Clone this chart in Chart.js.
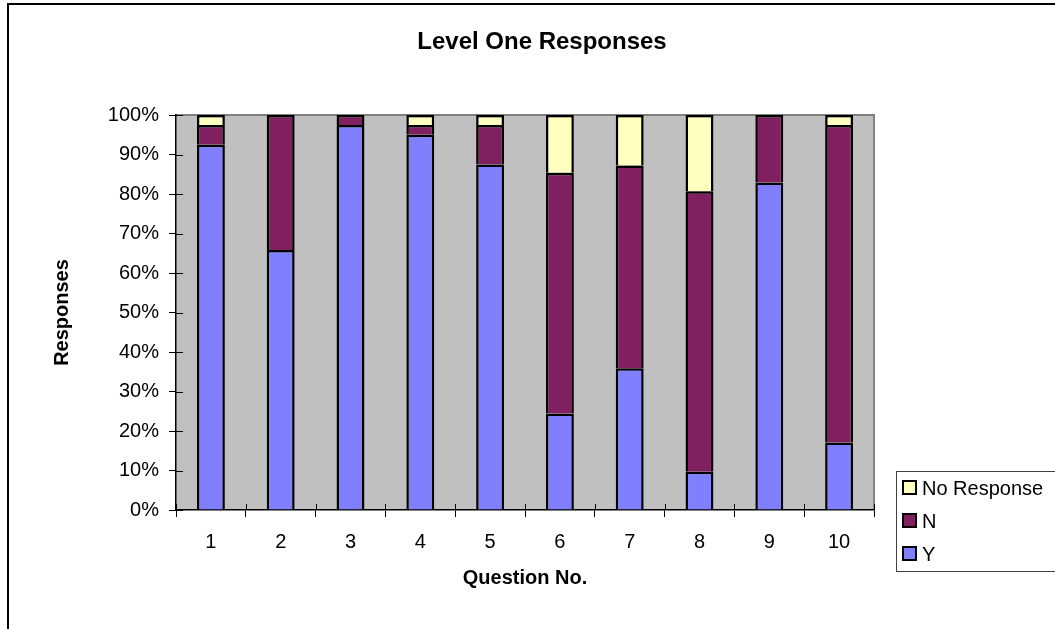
<!DOCTYPE html>
<html>
<head>
<meta charset="utf-8">
<style>
  html, body { margin: 0; padding: 0; background: #fff; }
  #wrap { width: 1055px; height: 629px; }
</style>
<script src="https://cdn.jsdelivr.net/npm/chart.js@4/dist/chart.umd.min.js"></script>
</head>
<body>
<div id="wrap"><canvas id="chart" width="1055" height="629"></canvas></div>
<script>
// Question numbers along the category axis
const questions = ['1', '2', '3', '4', '5', '6', '7', '8', '9', '10'];
// Share of answers per question, in percent
const yesShare        = [92.5, 65.8, 97.5, 95.0, 87.5, 24.4, 35.9,  9.7, 82.9, 17.1];
const noShare         = [ 5.0, 34.2,  2.5,  2.5, 10.0, 61.0, 51.3, 71.0, 17.1, 80.4];
const noResponseShare = [ 2.5,  0.0,  0.0,  2.5,  2.5, 14.6, 12.8, 19.3,  0.0,  2.5];
// Value axis ticks
const percentTicks = [0, 10, 20, 30, 40, 50, 60, 70, 80, 90, 100];
const chartTitle = 'Level One Responses';

const FONT = '"Liberation Sans", Arial, sans-serif';

// Frame, title, grey plot area, crossing tick marks and the boxed legend
const chrome = {
  id: 'chrome',
  beforeDraw(chart) {
    const { ctx, chartArea: a } = chart;
    ctx.save();
    ctx.fillStyle = '#ffffff';
    ctx.fillRect(0, 0, chart.width, chart.height);
    ctx.strokeStyle = '#000000';
    ctx.lineWidth = 2;
    ctx.beginPath();
    ctx.moveTo(8, chart.height);
    ctx.lineTo(8, 4);
    ctx.lineTo(chart.width, 4);
    ctx.stroke();
    ctx.fillStyle = '#C0C0C0';
    ctx.fillRect(a.left, a.top, a.right - a.left, a.bottom - a.top);
    ctx.strokeStyle = '#808080';
    ctx.lineWidth = 2;
    ctx.beginPath();
    ctx.moveTo(a.left, a.top);
    ctx.lineTo(a.right, a.top);
    ctx.lineTo(a.right, a.bottom);
    ctx.stroke();
    // chart title, centred over the whole chart frame
    ctx.fillStyle = '#000000';
    ctx.font = 'bold 24px ' + FONT;
    ctx.textAlign = 'center';
    ctx.textBaseline = 'alphabetic';
    ctx.fillText(chartTitle, 542, 49);
    ctx.restore();
  },
  beforeDatasetsDraw(chart) {
    const { ctx, chartArea: a, scales } = chart;
    ctx.save();
    ctx.strokeStyle = '#000000';
    ctx.lineWidth = 1;
    ctx.beginPath();
    scales.y.ticks.forEach(t => {
      const py = Math.round(scales.y.getPixelForValue(t.value)) + 0.5;
      ctx.moveTo(a.left, py);
      ctx.lineTo(a.left + 7, py);
    });
    for (let i = 0; i <= questions.length; i++) {
      const px = Math.round(scales.x.getPixelForValue(i - 0.5)) + 0.5;
      ctx.moveTo(px, a.bottom);
      ctx.lineTo(px, a.bottom - 6);
    }
    ctx.stroke();
    ctx.restore();
  },
  afterDraw(chart) {
    const { ctx } = chart;
    const box = { x: 896, y: 471, w: 200, h: 100 };
    ctx.save();
    ctx.fillStyle = '#ffffff';
    ctx.fillRect(box.x, box.y, box.w, box.h);
    ctx.strokeStyle = '#404040';
    ctx.lineWidth = 1;
    ctx.strokeRect(box.x + 0.5, box.y + 0.5, box.w, box.h);
    const items = chart.data.datasets.slice().reverse();
    ctx.font = '20px ' + FONT;
    ctx.textBaseline = 'middle';
    ctx.textAlign = 'left';
    items.forEach((ds, i) => {
      const cy = 488 + i * 33;
      ctx.fillStyle = ds.backgroundColor;
      ctx.fillRect(903, cy - 7, 13, 13);
      ctx.strokeStyle = '#000000';
      ctx.lineWidth = 2;
      ctx.strokeRect(903, cy - 7, 13, 13);
      ctx.fillStyle = '#000000';
      ctx.fillText(ds.label, 922, cy + 1);
    });
    ctx.restore();
  }
};

const barStyle = {
  borderColor: '#000000',
  borderWidth: 2.5,
  borderSkipped: 'start',
  categoryPercentage: 1.0,
  barPercentage: 0.4
};

new Chart(document.getElementById('chart'), {
  type: 'bar',
  data: {
    labels: questions,
    datasets: [
      Object.assign({ label: 'Y', data: yesShare, backgroundColor: '#8080FF' }, barStyle),
      Object.assign({ label: 'N', data: noShare, backgroundColor: '#802060' }, barStyle),
      Object.assign({ label: 'No Response', data: noResponseShare, backgroundColor: '#FFFFC0' }, barStyle)
    ]
  },
  options: {
    responsive: false,
    animation: false,
    devicePixelRatio: 1,
    layout: { padding: { left: 0, top: 115, right: 181, bottom: 0 } },
    plugins: {
      legend: { display: false },
      tooltip: { enabled: false },
      title: { display: false }
    },
    scales: {
      x: {
        stacked: true,
        offset: true,
        grid: { display: true, offset: true, drawOnChartArea: false, drawTicks: true, tickLength: 7, color: '#000000', lineWidth: 1 },
        border: { display: true, color: '#000000', width: 1.5 },
        ticks: { color: '#000000', padding: 13, font: { family: FONT, size: 20 } },
        title: {
          display: true,
          text: 'Question No.',
          color: '#000000',
          font: { family: FONT, size: 20, weight: 'bold', lineHeight: 1.2 },
          padding: { top: 0, bottom: 39 }
        },
        afterFit(scale) { scale.height = 119; }
      },
      y: {
        stacked: true,
        min: 0,
        max: 100,
        afterBuildTicks(scale) { scale.ticks = percentTicks.map(v => ({ value: v })); },
        grid: { display: true, drawOnChartArea: false, drawTicks: true, tickLength: 7, color: '#000000', lineWidth: 1 },
        border: { display: true, color: '#000000', width: 1.5 },
        ticks: {
          color: '#000000',
          padding: 10,
          font: { family: FONT, size: 20 },
          callback: v => v + '%'
        },
        title: {
          display: true,
          text: 'Responses',
          color: '#000000',
          font: { family: FONT, size: 20, weight: 'bold', lineHeight: 1.2 },
          padding: { top: 50, bottom: 0 }
        },
        afterFit(scale) { scale.width = 176; }
      }
    }
  },
  plugins: [chrome]
});
</script>
</body>
</html>
